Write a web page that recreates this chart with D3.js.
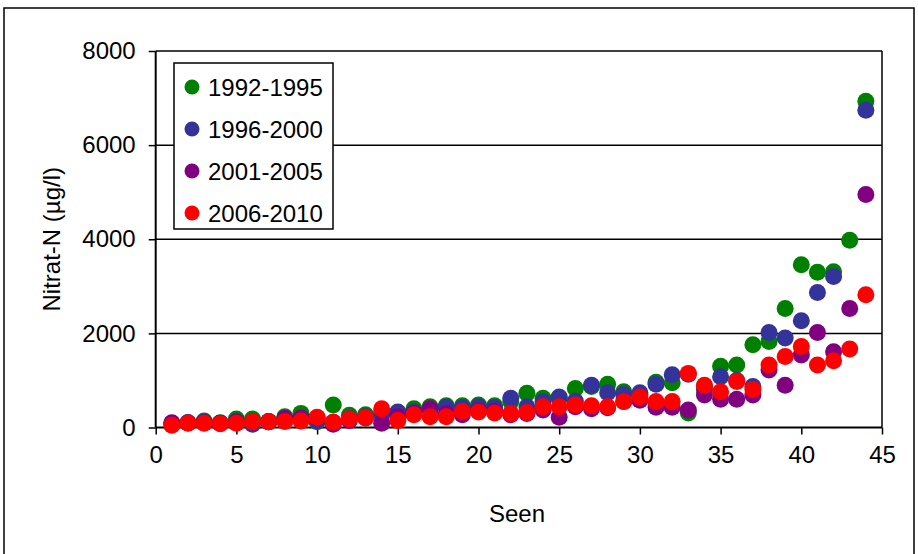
<!DOCTYPE html>
<html>
<head>
<meta charset="utf-8">
<script src="https://cdn.jsdelivr.net/npm/d3@7"></script>
<style>
  body { margin: 0; background: #fff; }
  text { font-family: "Liberation Sans", Arial, sans-serif; fill: #000; }
</style>
</head>
<body>
<script>
let width = 918,
    height = 554;

// data
let seen = d3.range(1, 45);
let names = ["1992-1995", "1996-2000", "2001-2005", "2006-2010"];
let colors = ["#008000", "#333399", "#800080", "#ff0000"];

let g9295 = [80, 100, 140, 100, 180, 180, 130, 230, 300, 120, 480, 260, 270, 300, 320, 400, 440, 460, 460, 480, 460, 550,
  730, 620, 620, 830, 870, 920, 760, 700, 960, 950, 310, 870, 1300, 1330, 1760, 1830, 2530, 3460, 3300, 3310, 3980, 6930];
let b9600 = [90, 100, 110, 90, 110, 70, 120, 180, 190, 140, 110, 190, 230, 280, 330, 330, 390, 430, 420, 440, 420, 620,
  440, 550, 650, 560, 900, 740, 700, 740, 920, 1120, 1130, 800, 1080, 1000, 870, 2020, 1900, 2270, 2870, 3210, null, 6740];
let p0105 = [100, 100, 100, 90, 120, 120, 120, 190, 200, 200, 70, 150, 200, 90, 230, 300, 400, 290, 270, 350, 340, 270,
  300, 370, 220, 440, 400, 420, 560, 580, 430, 430, 370, 690, 600, 600, 690, 1220, 900, 1540, 2020, 1610, 2530, 4950];
let r0610 = [50, 90, 90, 80, 90, 120, 120, 130, 140, 220, 110, 180, 210, 400, 150, 270, 230, 230, 340, 330, 310, 300,
  320, 440, 440, 480, 460, 440, 550, 650, 550, 550, 1150, 900, 760, 980, 810, 1330, 1510, 1720, 1330, 1420, 1670, 2820];

let series = [g9295, b9600, p0105, r0610];

let xTicks = d3.range(0, 46, 5);
let yTicks = [0, 2000, 4000, 6000, 8000];

let fontSize = "24px";

let svg = d3.select("body")
    .append("svg")
    .attr("width", width)
    .attr("height", height);

// outer frame
svg.append("rect")
    .attr("x", 4).attr("y", 8)
    .attr("width", 910).attr("height", 560)
    .attr("fill", "none")
    .attr("stroke", "#000")
    .attr("stroke-width", 1.5);

let x = d3.scaleLinear().domain([0, 45]).range([155.7, 882]);
let y = d3.scaleLinear().domain([0, 8000]).range([427.5, 51]);

// gridlines
svg.append("g")
    .selectAll("line")
    .data(yTicks.filter(d => d > 0))
    .enter()
    .append("line")
    .attr("x1", x(0)).attr("x2", x(45))
    .attr("y1", d => y(d)).attr("y2", d => y(d))
    .attr("stroke", "#000")
    .attr("stroke-width", 1.5);

// right border of plot
svg.append("line")
    .attr("x1", x(45)).attr("x2", x(45))
    .attr("y1", y(8000)).attr("y2", y(0))
    .attr("stroke", "#000")
    .attr("stroke-width", 1.5);

let xAxis = svg.append("g")
    .attr("transform", "translate(0," + y(0) + ")")
    .call(d3.axisBottom(x).tickValues(xTicks).tickSize(7).tickPadding(11).tickFormat(d3.format("d")));

let yAxis = svg.append("g")
    .attr("transform", "translate(" + x(0) + ",0)")
    .call(d3.axisLeft(y).tickValues(yTicks).tickSize(7).tickPadding(13).tickFormat(d3.format("d")));

[xAxis, yAxis].forEach(a => {
  a.select(".domain").attr("stroke", "#000").attr("stroke-width", 2);
  a.selectAll(".tick line").attr("stroke", "#000").attr("stroke-width", 1.5);
  a.selectAll(".tick text")
      .style("font-size", fontSize)
      .style("font-family", "'Liberation Sans', Arial, sans-serif")
      .attr("fill", "#000");
});
xAxis.select(".domain").attr("d", "M" + x(0) + ",0H" + x(45));
yAxis.select(".domain").attr("d", "M0," + y(8000) + "V" + y(0));

// points
series.forEach((vals, i) => {
  svg.append("g")
      .selectAll("circle")
      .data(seen.map((s, j) => ({ s: s, v: vals[j] })).filter(d => d.v != null))
      .enter()
      .append("circle")
      .attr("cx", d => x(d.s))
      .attr("cy", d => y(d.v))
      .attr("r", 8.5)
      .attr("fill", colors[i]);
});

// legend
let legend = svg.append("g");
legend.append("rect")
    .attr("x", 174).attr("y", 63)
    .attr("width", 159).attr("height", 166)
    .attr("fill", "#fff")
    .attr("stroke", "#000")
    .attr("stroke-width", 1.5);

names.forEach((n, i) => {
  legend.append("circle")
      .attr("cx", 192)
      .attr("cy", 87 + i * 42)
      .attr("r", 7.5)
      .attr("fill", colors[i]);
  legend.append("text")
      .attr("x", 208)
      .attr("y", 87 + i * 42)
      .attr("dy", "0.36em")
      .style("font-size", fontSize)
      .text(n);
});

// axis titles
svg.append("text")
    .attr("x", 517)
    .attr("y", 522)
    .style("text-anchor", "middle")
    .style("font-size", fontSize)
    .text("Seen");

svg.append("text")
    .attr("transform", "translate(60," + y(4000) + ") rotate(-90)")
    .style("text-anchor", "middle")
    .style("font-size", fontSize)
    .text("Nitrat-N (µg/l)");
</script>
</body>
</html>
